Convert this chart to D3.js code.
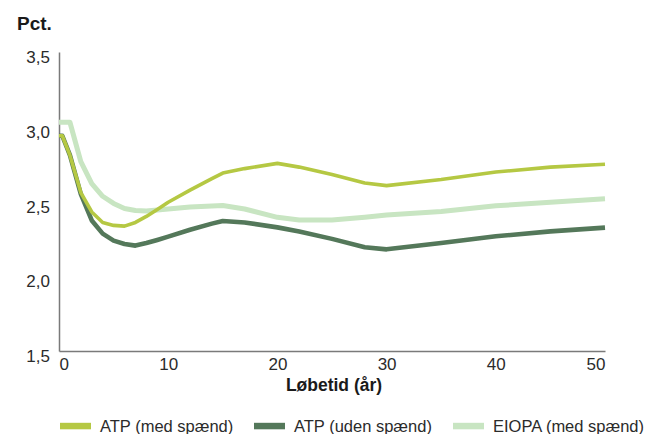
<!DOCTYPE html>
<html>
<head>
<meta charset="utf-8">
<script src="https://cdn.jsdelivr.net/npm/d3@7/dist/d3.min.js"></script>
<style>
  html, body { margin: 0; padding: 0; background: #fff; }
  svg { display: block; font-family: "Liberation Sans", Arial, Helvetica, sans-serif; }
</style>
</head>
<body>
<svg id="chart" width="650" height="434"></svg>
<script>
// Løbetid i år
const maturities = [0, 0.3, 1, 2, 3, 4, 5, 6, 7, 8, 9, 10, 12, 14, 15, 17, 20, 22, 25, 28, 30, 35, 40, 45, 50];

// Renter i pct.
const atpMedSpaend = [2.94, 2.94, 2.81, 2.56, 2.43, 2.36, 2.34, 2.335, 2.36, 2.40, 2.447, 2.495, 2.576, 2.653, 2.69, 2.72, 2.755, 2.73, 2.68, 2.624, 2.606, 2.647, 2.697, 2.73, 2.749];
const atpUdenSpaend = [2.94, 2.94, 2.81, 2.55, 2.373, 2.285, 2.238, 2.216, 2.205, 2.222, 2.243, 2.265, 2.311, 2.352, 2.37, 2.36, 2.327, 2.30, 2.25, 2.194, 2.18, 2.222, 2.267, 2.30, 2.325];
const eiopaMedSpaend = [3.03, 3.03, 3.03, 2.766, 2.619, 2.535, 2.487, 2.453, 2.44, 2.436, 2.443, 2.45, 2.463, 2.47, 2.473, 2.45, 2.394, 2.376, 2.376, 2.395, 2.41, 2.433, 2.471, 2.495, 2.519];

const seriesNames = ["ATP (med spænd)", "ATP (uden spænd)", "EIOPA (med spænd)"];
const seriesColors = ["#b5c843", "#54785a", "#c8e5c2"];
const seriesWidths = [3.6, 4.6, 5];

const xTicks = [0, 10, 20, 30, 40, 50];
const yTicks = [1.5, 2.0, 2.5, 3.0, 3.5];

const series = [atpMedSpaend, atpUdenSpaend, eiopaMedSpaend].map((vals, i) => ({
  name: seriesNames[i],
  color: seriesColors[i],
  width: seriesWidths[i],
  points: maturities.map((t, j) => ({ t, v: vals[j] }))
}));

const svg = d3.select("#chart");
const x = d3.scaleLinear().domain([0, 50]).range([59, 605]);
const y = d3.scaleLinear().domain([1.5, 3.5]).range([351, 52]);
const fmt = d => d3.format(".1f")(d).replace(".", ",");

// Y-akse
const yAxis = svg.append("g")
  .attr("transform", `translate(${x(0)},0)`)
  .call(d3.axisLeft(y).tickValues(yTicks).tickSize(0).tickPadding(9).tickFormat(fmt));
yAxis.select(".domain").attr("stroke", "#7a7a7a").attr("stroke-width", 1.5);
yAxis.selectAll("text")
  .attr("font-size", 17).attr("fill", "#2b2b2b").attr("dy", "0.62em")
  .attr("font-family", null);

// X-akse
const xAxis = svg.append("g")
  .attr("transform", `translate(0,${y(1.5)})`)
  .call(d3.axisBottom(x).tickValues(xTicks).tickSize(0).tickPadding(7).tickFormat(d3.format("d")));
xAxis.select(".domain").attr("stroke", "#7a7a7a").attr("stroke-width", 1.5);
xAxis.selectAll("text")
  .attr("font-size", 17).attr("fill", "#2b2b2b")
  .attr("font-family", null)
  .attr("text-anchor", d => d === 0 ? "start" : d === 50 ? "end" : "middle");

// Kurver
const line = d3.line().x(d => x(d.t)).y(d => y(d.v));
svg.append("g").selectAll("path")
  .data(series.slice().reverse())
  .join("path")
  .attr("d", d => line(d.points))
  .attr("fill", "none")
  .attr("stroke", d => d.color)
  .attr("stroke-width", d => d.width)
  .attr("stroke-linejoin", "round");

// Titler
svg.append("text").attr("x", 17).attr("y", 30)
  .attr("font-size", 19).attr("font-weight", "bold").attr("fill", "#1a1a1a")
  .text("Pct.");
svg.append("text").attr("x", (x(0) + x(50)) / 2 + 2).attr("y", 391)
  .attr("text-anchor", "middle")
  .attr("font-size", 17.5).attr("font-weight", "bold").attr("fill", "#1a1a1a")
  .text("Løbetid (år)");

// Signatur
const legendX = [60, 254, 453];
const legend = svg.append("g").selectAll("g")
  .data(series)
  .join("g")
  .attr("transform", (d, i) => `translate(${legendX[i]},426)`);
legend.append("rect").attr("x", 0).attr("y", -3.2).attr("width", 31).attr("height", 6.5)
  .attr("fill", d => d.color);
legend.append("text").attr("x", 40).attr("y", 6.3)
  .attr("font-size", 16.5).attr("fill", "#2b2b2b")
  .text(d => d.name);
</script>
</body>
</html>
